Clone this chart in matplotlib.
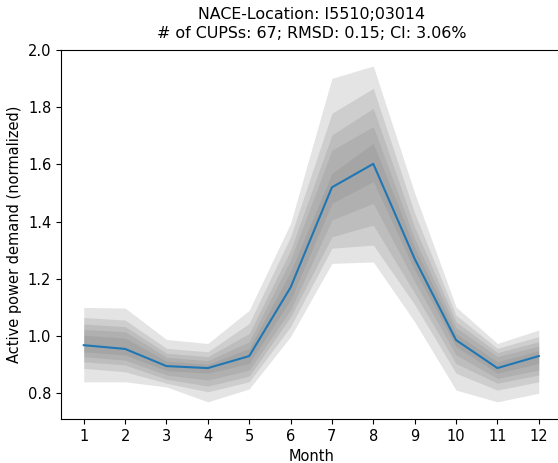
import matplotlib
matplotlib.use("Agg")
import matplotlib.pyplot as plt
import numpy as np

# months
months = np.arange(1, 13)

# central profile (blue line)
center = [0.968, 0.955, 0.895, 0.888, 0.930, 1.170, 1.520, 1.602, 1.270, 0.986, 0.888, 0.930]

# quantile band edges, outermost first
upper_1 = [1.100, 1.098, 0.988, 0.974, 1.090, 1.394, 1.901, 1.944, 1.500, 1.102, 0.974, 1.021]
upper_2 = [1.065, 1.056, 0.957, 0.945, 1.044, 1.347, 1.779, 1.866, 1.430, 1.073, 0.957, 0.998]
upper_3 = [1.042, 1.033, 0.940, 0.928, 1.009, 1.300, 1.703, 1.796, 1.380, 1.050, 0.942, 0.980]
upper_4 = [1.023, 1.015, 0.926, 0.914, 0.980, 1.266, 1.650, 1.732, 1.340, 1.030, 0.928, 0.965]
upper_5 = [1.003, 0.993, 0.913, 0.901, 0.957, 1.225, 1.569, 1.674, 1.310, 1.009, 0.910, 0.949]

lower_5 = [0.945, 0.934, 0.879, 0.870, 0.904, 1.126, 1.464, 1.540, 1.230, 0.963, 0.870, 0.904]
lower_4 = [0.928, 0.916, 0.864, 0.846, 0.881, 1.091, 1.406, 1.464, 1.190, 0.934, 0.852, 0.881]
lower_3 = [0.910, 0.899, 0.849, 0.825, 0.860, 1.067, 1.347, 1.388, 1.150, 0.904, 0.835, 0.864]
lower_2 = [0.887, 0.875, 0.835, 0.805, 0.840, 1.033, 1.307, 1.318, 1.110, 0.870, 0.811, 0.840]
lower_1 = [0.840, 0.840, 0.822, 0.770, 0.815, 0.998, 1.254, 1.259, 1.050, 0.811, 0.770, 0.800]

bands = [(lower_1, upper_1), (lower_2, upper_2), (lower_3, upper_3),
         (lower_4, upper_4), (lower_5, upper_5)]

fig = plt.figure(figsize=(5.58, 4.63), dpi=100)
ax = fig.add_axes([61 / 558, 1 - 419 / 463, 500.5 / 558, 369 / 463])

for lo, hi in bands:
    ax.fill_between(months, lo, hi, color="gray", alpha=0.21, linewidth=0)

ax.plot(months, center, color="#1f77b4", linewidth=1.5)

ax.set_xticks(months)
ax.set_xlim(0.45, 12.55)
ax.set_ylim(0.71, 2.0)
ax.tick_params(labelsize=10.5)
ax.set_xlabel("Month", fontsize=10.5)
ax.set_ylabel("Active power demand (normalized)", fontsize=10.5)
ax.set_title("NACE-Location: I5510;03014\n# of CUPSs: 67; RMSD: 0.15; CI: 3.06%",
             fontsize=11.4, pad=9, linespacing=1.3)

fig.savefig("out.png", dpi=100)
